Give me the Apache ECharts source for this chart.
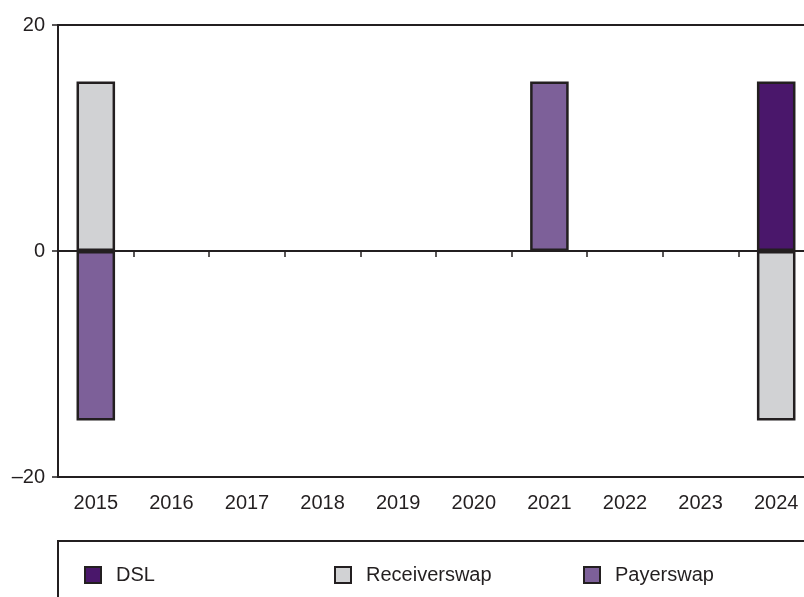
<!DOCTYPE html>
<html><head><meta charset="utf-8">
<script src="https://cdn.jsdelivr.net/npm/echarts@6/dist/echarts.min.js"></script>
<style>html,body{margin:0;padding:0;background:#fff}#c{width:804px;height:597px}</style>
</head><body><div id="c"></div>
<script>
const years = ['2015','2016','2017','2018','2019','2020','2021','2022','2023','2024'];
const dsl = [null,null,null,null,null,null,null,null,null,15];
const receiverswap = [15,null,null,null,null,null,null,null,null,-15];
const payerswap = [-15,null,null,null,null,null,15,null,null,null];
const yTicks = [-20, 0, 20];

const ink = '#231f20';
const font = 'Liberation Sans';
const colors = {DSL:'#4a176b', Receiverswap:'#d1d2d4', Payerswap:'#7d6099'};
const chart = echarts.init(document.getElementById('c'));
function mk(name, data){
  return {name, type:'bar', stack:'s', data, barWidth:'51%', xAxisIndex:0,
    itemStyle:{color:colors[name], borderColor:ink, borderWidth:2.5}};
}
function lg(name, left){
  return {show:true, left, top:560, data:[name], icon:'rect', itemWidth:16, itemHeight:16,
    textStyle:{fontFamily:font, fontSize:20, color:ink, padding:[0,0,0,10]},
    selectedMode:false};
}
chart.setOption({
  animation:false,
  textStyle:{fontFamily:font},
  grid:{left:58, top:25, width:756, height:452, show:true, borderColor:ink, borderWidth:2, containLabel:false, outerBoundsMode:'none'},
  xAxis:[
    {type:'category', data:years, position:'bottom', axisLine:{onZero:true, lineStyle:{color:ink, width:2}},
     axisTick:{show:true, length:6, lineStyle:{color:ink, width:1.5}}, axisLabel:{show:false}},
    {type:'category', data:years, position:'bottom', axisLine:{show:false, onZero:false}, axisTick:{show:false},
     axisLabel:{show:true, fontFamily:font, fontSize:20, color:ink, margin:16}}
  ],
  yAxis:{type:'value', min:yTicks[0], max:yTicks[2], interval:20, splitLine:{show:false},
    axisLine:{show:true, lineStyle:{color:ink, width:2}},
    axisTick:{show:true, length:6, lineStyle:{color:ink, width:1.5}},
    axisLabel:{fontFamily:font, fontSize:20, color:ink, margin:13, formatter:v=>String(v).replace('-','\u2013')}},
  legend:[lg('DSL',79), lg('Receiverswap',329), lg('Payerswap',578)],
  graphic:[{type:'rect', shape:{x:58, y:541, width:760, height:80}, style:{fill:'none', stroke:ink, lineWidth:2}}],
  series:[mk('DSL', dsl), mk('Receiverswap', receiverswap), mk('Payerswap', payerswap)]
});
</script></body></html>
